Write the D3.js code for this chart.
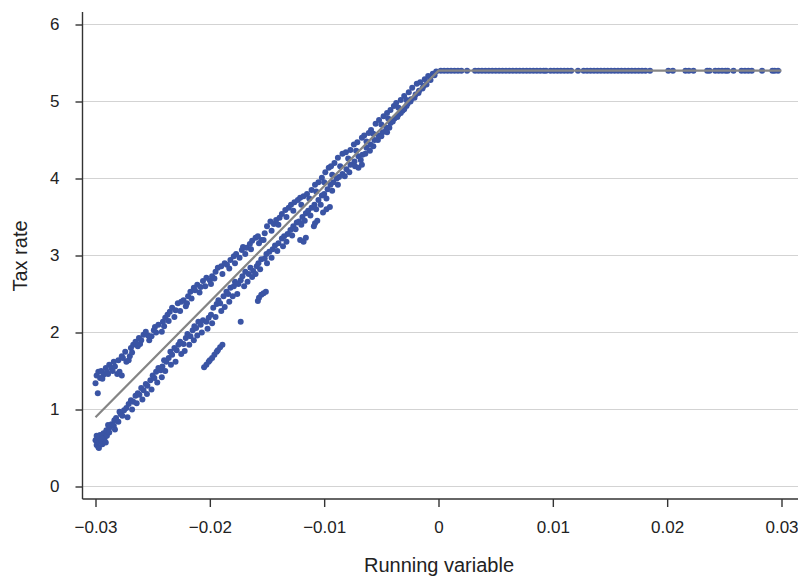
<!DOCTYPE html>
<html>
<head>
<meta charset="utf-8">
<script src="https://cdn.jsdelivr.net/npm/d3@7"></script>
<style>
    body { margin: 0; background: #fff; }
    svg { display: block; font-family: 'Liberation Sans', Arial, sans-serif; }
</style>
</head>
<body>
<div id="chart"></div>
<script>
// Axis ticks and labels
const xTicks = [-0.03, -0.02, -0.01, 0, 0.01, 0.02, 0.03];
const xTickLabels = ['\u22120.03', '\u22120.02', '\u22120.01', '0', '0.01', '0.02', '0.03'];
const yTicks = [0, 1, 2, 3, 4, 5, 6];

// Fitted line (running variable, tax rate)
const fitX = [-0.03, 0, 0.03];
const fitY = [0.9, 5.4, 5.4];

// Points below the cutoff, lower band [x, y]
const lowerBand = [
    [-0.0300, 0.60], [-0.0299, 0.54], [-0.0298, 0.64], [-0.02975, 0.51], [-0.0297, 0.58],
    [-0.0296, 0.67], [-0.0295, 0.60], [-0.0294, 0.55], [-0.0293, 0.69], [-0.0292, 0.63],
    [-0.02905, 0.73], [-0.0290, 0.66], [-0.0288, 0.76], [-0.0286, 0.81], [-0.0284, 0.79],
    [-0.02835, 0.86], [-0.0282, 0.89], [-0.0280, 0.84], [-0.0278, 0.94], [-0.02765, 0.92],
    [-0.0275, 0.99], [-0.0273, 1.02], [-0.0271, 1.07], [-0.0269, 1.12], [-0.0267, 1.10],
    [-0.0265, 1.18], [-0.0263, 1.21], [-0.02616, 1.19], [-0.0260, 1.28], [-0.0258, 1.25],
    [-0.0256, 1.33], [-0.02546, 1.31], [-0.0252, 1.38], [-0.0250, 1.44], [-0.02485, 1.41],
    [-0.0247, 1.49], [-0.0245, 1.54], [-0.0243, 1.51], [-0.02415, 1.56], [-0.0240, 1.64],
    [-0.0238, 1.62], [-0.0236, 1.67], [-0.02345, 1.75], [-0.0233, 1.71], [-0.0231, 1.80],
    [-0.0229, 1.77], [-0.02275, 1.84], [-0.0226, 1.88], [-0.0223, 1.85], [-0.0221, 1.93],
    [-0.02196, 1.98], [-0.0217, 1.95], [-0.0215, 2.03], [-0.02135, 2.08], [-0.0212, 2.06],
    [-0.0210, 2.14], [-0.0208, 2.10], [-0.0206, 2.16], [-0.0203, 2.14], [-0.0201, 2.19],
    [-0.0199, 2.23], [-0.0197, 2.32], [-0.0194, 2.37], [-0.01925, 2.42], [-0.0191, 2.38],
    [-0.0188, 2.47], [-0.01855, 2.53], [-0.0184, 2.50], [-0.0182, 2.58], [-0.0179, 2.60],
    [-0.0178, 2.66], [-0.0175, 2.63], [-0.0173, 2.68], [-0.01715, 2.73], [-0.0169, 2.79],
    [-0.0166, 2.76], [-0.01645, 2.84], [-0.0162, 2.80], [-0.0159, 2.86], [-0.01575, 2.90],
    [-0.0155, 2.95], [-0.0152, 2.96], [-0.01505, 3.02], [-0.0148, 3.05], [-0.0145, 3.08],
    [-0.0143, 3.13], [-0.0140, 3.16], [-0.0137, 3.22], [-0.0135, 3.25], [-0.0132, 3.28],
    [-0.01295, 3.33], [-0.0127, 3.38], [-0.0124, 3.43], [-0.0122, 3.44], [-0.0119, 3.50],
    [-0.0116, 3.55], [-0.0114, 3.58], [-0.0111, 3.62], [-0.01085, 3.66], [-0.0105, 3.72],
    [-0.0102, 3.78], [-0.0100, 3.80], [-0.0097, 3.86], [-0.00945, 3.92], [-0.0092, 3.95],
    [-0.0089, 4.00], [-0.0087, 4.02], [-0.0084, 4.06], [-0.00805, 4.12], [-0.0077, 4.18],
    [-0.00735, 4.22], [-0.0070, 4.29], [-0.00665, 4.31], [-0.0063, 4.40], [-0.00595, 4.44],
    [-0.0056, 4.50], [-0.00525, 4.56], [-0.0049, 4.60], [-0.00455, 4.66], [-0.0042, 4.72],
    [-0.00385, 4.78], [-0.0035, 4.83], [-0.00315, 4.88], [-0.0028, 4.94], [-0.00245, 5.00],
    [-0.0021, 5.05], [-0.00175, 5.11], [-0.0014, 5.17], [-0.00105, 5.22], [-0.0007, 5.28],
    [-0.00035, 5.34],
    [-0.0297, 0.50], [-0.0294, 0.62], [-0.0291, 0.57], [-0.0299, 0.66], [-0.0288, 0.70],
    // second row of the lower band
    [-0.0289, 0.80], [-0.0283, 0.74], [-0.0279, 0.97], [-0.0272, 0.90], [-0.0268, 1.00],
    [-0.0264, 1.08], [-0.0259, 1.13], [-0.0255, 1.20], [-0.0251, 1.26], [-0.0246, 1.35],
    [-0.0242, 1.42], [-0.0239, 1.50], [-0.0234, 1.58], [-0.0230, 1.62], [-0.0225, 1.72],
    [-0.0222, 1.76], [-0.0218, 1.84], [-0.0214, 1.90], [-0.0211, 1.96], [-0.0207, 2.00],
    [-0.0202, 2.05], [-0.0198, 2.12], [-0.0195, 2.20], [-0.0190, 2.28], [-0.0187, 2.33],
    [-0.0183, 2.40], [-0.0180, 2.47], [-0.0176, 2.50], [-0.0170, 2.60], [-0.0167, 2.66],
    [-0.0163, 2.72], [-0.0160, 2.76], [-0.0156, 2.82], [-0.0150, 2.90], [-0.0146, 2.97],
    [-0.0141, 3.06], [-0.0136, 3.12], [-0.0133, 3.18], [-0.0128, 3.26], [-0.0125, 3.34],
    [-0.0120, 3.40], [-0.0117, 3.45], [-0.0112, 3.52], [-0.0107, 3.60], [-0.0103, 3.66],
    [-0.0098, 3.74], [-0.0093, 3.84], [-0.0088, 3.92], [-0.0082, 4.03], [-0.0078, 4.08],
    [-0.0073, 4.16], [-0.0068, 4.24], [-0.0064, 4.32], [-0.0060, 4.36], [-0.0057, 4.42],
    [-0.0053, 4.50], [-0.0050, 4.55], [-0.0046, 4.62], [-0.0043, 4.66], [-0.0040, 4.74],
    [-0.0036, 4.80], [-0.0033, 4.85], [-0.0030, 4.90], [-0.0027, 4.97], [-0.0024, 5.03],
    [-0.0020, 5.09], [-0.0017, 5.14], [-0.0013, 5.20]
];

// Points below the cutoff, upper band [x, y]
const upperBand = [
    [-0.0300, 1.34], [-0.0299, 1.44], [-0.0298, 1.21], [-0.02975, 1.49], [-0.0296, 1.41],
    [-0.0295, 1.50], [-0.0293, 1.45], [-0.0291, 1.54], [-0.0290, 1.49], [-0.0288, 1.58],
    [-0.0286, 1.54], [-0.0284, 1.62], [-0.0283, 1.56], [-0.0281, 1.46], [-0.0279, 1.49],
    [-0.0277, 1.44], [-0.0280, 1.64], [-0.0277, 1.69], [-0.0276, 1.67], [-0.0274, 1.75],
    [-0.0273, 1.62], [-0.0271, 1.64], [-0.0270, 1.69], [-0.0269, 1.80], [-0.0267, 1.84],
    [-0.0265, 1.88], [-0.0263, 1.82], [-0.0262, 1.93], [-0.0260, 1.90], [-0.0258, 1.97],
    [-0.0256, 2.01], [-0.0253, 1.90], [-0.0251, 1.95], [-0.0249, 2.03], [-0.0248, 2.07],
    [-0.0245, 2.10], [-0.0242, 2.01], [-0.0241, 2.14], [-0.0239, 2.19], [-0.0237, 2.23],
    [-0.0235, 2.27], [-0.0233, 2.32], [-0.0230, 2.29], [-0.0228, 2.38], [-0.0225, 2.40],
    [-0.0223, 2.42], [-0.0221, 2.34], [-0.0219, 2.47], [-0.0217, 2.53], [-0.0214, 2.58],
    [-0.0213, 2.55], [-0.0211, 2.62], [-0.0208, 2.59], [-0.0206, 2.67], [-0.0203, 2.71],
    [-0.0200, 2.68], [-0.0198, 2.73], [-0.0195, 2.79], [-0.0193, 2.84], [-0.0190, 2.86],
    [-0.0187, 2.90], [-0.0185, 2.88], [-0.0182, 2.94], [-0.0179, 2.99], [-0.0177, 3.02],
    [-0.0174, 2.97], [-0.0172, 3.07], [-0.0171, 3.11], [-0.0168, 3.10], [-0.0165, 3.15],
    [-0.0163, 3.19], [-0.0160, 3.23], [-0.0158, 3.25], [-0.0155, 3.20], [-0.0152, 3.29],
    [-0.0150, 3.38], [-0.0147, 3.44], [-0.0144, 3.41], [-0.0142, 3.46], [-0.0139, 3.49],
    [-0.0137, 3.54], [-0.0134, 3.59], [-0.0131, 3.62], [-0.0129, 3.66], [-0.0126, 3.69],
    [-0.0123, 3.72], [-0.0121, 3.75], [-0.0118, 3.77], [-0.0115, 3.80], [-0.0111, 3.85],
    [-0.0108, 3.92], [-0.0105, 3.95], [-0.0102, 4.01], [-0.0099, 4.08], [-0.0096, 4.14],
    [-0.0094, 4.16], [-0.0091, 4.20], [-0.0088, 4.27], [-0.0084, 4.32], [-0.0081, 4.34],
    [-0.0077, 4.37], [-0.0074, 4.44], [-0.0071, 4.47], [-0.0067, 4.53], [-0.0065, 4.56],
    [-0.0061, 4.59], [-0.0059, 4.63], [-0.0055, 4.71], [-0.0052, 4.76], [-0.0048, 4.81],
    [-0.0045, 4.85], [-0.0042, 4.89], [-0.0039, 4.94], [-0.0037, 4.98], [-0.0033, 5.02],
    [-0.0030, 5.07], [-0.0026, 5.12], [-0.0023, 5.18], [-0.0019, 5.23], [-0.0016, 5.25],
    [-0.0012, 5.29], [-0.0009, 5.33], [-0.0005, 5.36], [-0.0002, 5.39],
    // second row of the upper band
    [-0.0294, 1.40], [-0.0289, 1.46], [-0.0285, 1.50], [-0.0268, 1.74], [-0.0261, 1.85],
    [-0.0254, 1.96], [-0.0247, 2.00], [-0.0240, 2.08], [-0.0236, 2.15], [-0.0231, 2.20],
    [-0.0226, 2.28], [-0.0220, 2.38], [-0.0216, 2.44], [-0.0209, 2.52], [-0.0204, 2.60],
    [-0.0199, 2.63], [-0.0196, 2.70], [-0.0189, 2.76], [-0.0183, 2.83], [-0.0178, 2.90],
    [-0.0169, 3.02], [-0.0164, 3.08], [-0.0157, 3.16], [-0.0153, 3.20], [-0.0146, 3.32],
    [-0.0140, 3.40], [-0.0133, 3.50], [-0.0127, 3.58], [-0.0120, 3.66], [-0.0113, 3.74],
    [-0.0107, 3.83], [-0.0100, 3.95], [-0.0093, 4.05], [-0.0086, 4.16], [-0.0079, 4.26],
    [-0.0072, 4.36], [-0.0063, 4.48], [-0.0057, 4.58], [-0.0050, 4.70], [-0.0044, 4.78],
    [-0.0035, 4.92], [-0.0028, 5.02]
];

// Short off-band segments and stray points [x, y]
const strayPoints = [
    [-0.0205, 1.55], [-0.0203, 1.58], [-0.0201, 1.62], [-0.0200, 1.64], [-0.0198, 1.67],
    [-0.0196, 1.71], [-0.0194, 1.75], [-0.0193, 1.77], [-0.0191, 1.81], [-0.0189, 1.84],
    [-0.0158, 2.41], [-0.0157, 2.45], [-0.0155, 2.49], [-0.0153, 2.51], [-0.0151, 2.53],
    [-0.0173, 2.14], [-0.0118, 3.18], [-0.0121, 3.20], [-0.0116, 3.23],
    [-0.0109, 3.38], [-0.0108, 3.42], [-0.0106, 3.45], [-0.0101, 3.56], [-0.0098, 3.60],
    [-0.0095, 3.63], [-0.0070, 4.14], [-0.0067, 4.18], [-0.0045, 4.60]
];

// Points above the cutoff, all at the flat rate
const flatRate = 5.4;
const aboveX = [
    0.0002, 0.0005, 0.0008, 0.0011, 0.0014, 0.0017, 0.0020, 0.0025,
    0.0032, 0.0035, 0.0038, 0.0041, 0.0044, 0.0047, 0.0050, 0.0053, 0.0056, 0.0059,
    0.0062, 0.0065, 0.0068, 0.0071, 0.0074, 0.0077, 0.0080, 0.0083, 0.0086, 0.0089,
    0.0092, 0.0094, 0.0098, 0.0101, 0.0104, 0.0107, 0.0110, 0.0113, 0.0116, 0.0122,
    0.0127, 0.0130, 0.0133, 0.0136, 0.0139, 0.0142, 0.0145, 0.0148, 0.0151, 0.0154,
    0.0157, 0.0160, 0.0163, 0.0166, 0.0169, 0.0172, 0.0175, 0.0178, 0.0181, 0.0185,
    0.0201, 0.0205, 0.0216, 0.0219, 0.0223, 0.0235, 0.0237,
    0.0242, 0.0245, 0.0248, 0.0251, 0.0253, 0.0258,
    0.0265, 0.0268, 0.0271, 0.0274, 0.0283, 0.0292, 0.0294, 0.0297
];

const width = 798;
const height = 578;
const plot = { left: 82.5, right: 798, top: 12, bottom: 499 };

const svg = d3.select('#chart')
    .append('svg')
    .attr('width', width)
    .attr('height', height);

// Scales
const x = d3.scaleLinear().domain([-0.03, 0.03]).range([95.5, 781.5]);
const y = d3.scaleLinear().domain([0, 6]).range([486.5, 24.5]);

// Horizontal grid
svg.append('g')
    .selectAll('line')
    .data(yTicks)
    .join('line')
    .attr('x1', plot.left)
    .attr('x2', plot.right)
    .attr('y1', d => y(d))
    .attr('y2', d => y(d))
    .attr('stroke', '#d3d3d3')
    .attr('stroke-width', 1.2);

// Y axis
const yAxis = svg.append('g')
    .attr('transform', `translate(${plot.left},0)`)
    .call(d3.axisLeft(y).tickValues(yTicks).tickSize(7).tickPadding(16).tickFormat(d3.format('d')));
yAxis.select('.domain').remove();
yAxis.append('line')
    .attr('y1', plot.top)
    .attr('y2', plot.bottom)
    .attr('stroke', '#333')
    .attr('stroke-width', 1.4);

// X axis
const xAxis = svg.append('g')
    .attr('transform', `translate(0,${plot.bottom})`)
    .call(d3.axisBottom(x).tickValues(xTicks).tickSize(8).tickPadding(14)
        .tickFormat((d, i) => xTickLabels[i]));
xAxis.select('.domain').remove();
xAxis.append('line')
    .attr('x1', plot.left)
    .attr('x2', plot.right)
    .attr('stroke', '#333')
    .attr('stroke-width', 1.4);

svg.selectAll('.tick line').attr('stroke', '#333').attr('stroke-width', 1.4);
svg.selectAll('.tick text')
    .attr('fill', '#222')
    .style('font-size', '17px')
    .style('font-family', "'Liberation Sans', Arial, sans-serif");

// Axis titles
svg.append('text')
    .attr('x', 439)
    .attr('y', 572)
    .attr('text-anchor', 'middle')
    .attr('fill', '#222')
    .style('font-size', '20px')
    .text('Running variable');

svg.append('text')
    .attr('transform', 'translate(27,256) rotate(-90)')
    .attr('text-anchor', 'middle')
    .attr('fill', '#222')
    .style('font-size', '20px')
    .text('Tax rate');

// Scatter points
const allPoints = lowerBand.concat(upperBand, strayPoints, aboveX.map(v => [v, flatRate]));
svg.append('g')
    .selectAll('circle')
    .data(allPoints)
    .join('circle')
    .attr('cx', d => x(d[0]))
    .attr('cy', d => y(d[1]))
    .attr('r', 3)
    .attr('fill', '#3a54a4');

// Fitted line on top
const fit = fitX.map((v, i) => ({ x: v, y: fitY[i] }));
svg.append('path')
    .datum(fit)
    .attr('fill', 'none')
    .attr('stroke', '#858585')
    .attr('stroke-width', 2.2)
    .attr('d', d3.line().x(d => x(d.x)).y(d => y(d.y)));
</script>
</body>
</html>
